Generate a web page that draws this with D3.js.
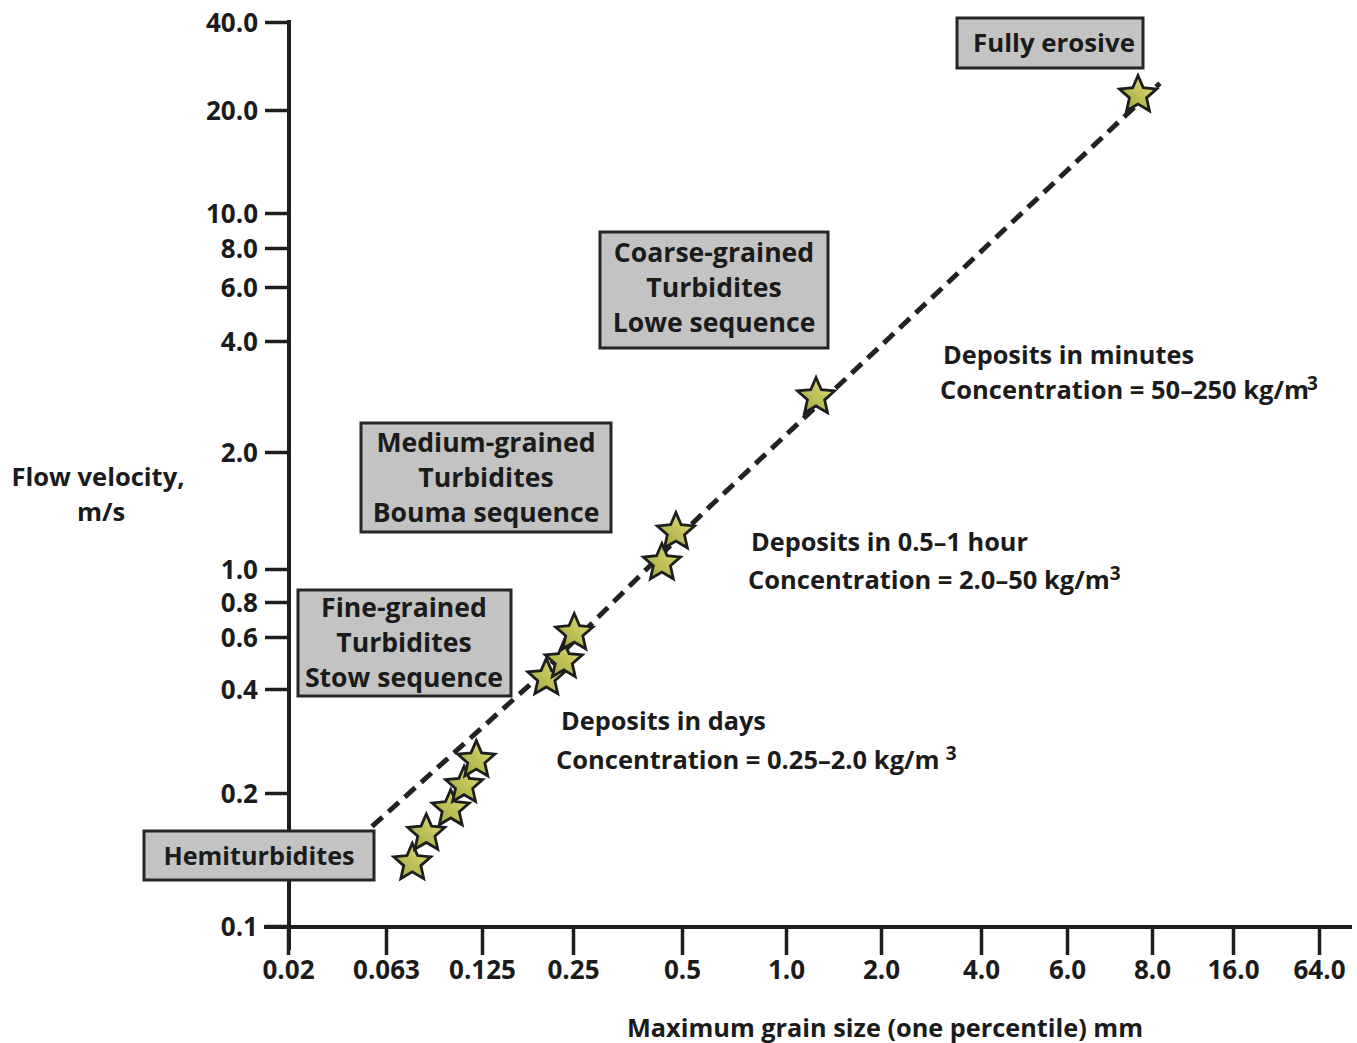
<!DOCTYPE html>
<html><head><meta charset="utf-8">
<script src="https://cdn.jsdelivr.net/npm/d3@7"></script>
<style>
body{margin:0;background:#fff}
svg{display:block}
text{font-family:"Open Sans",sans-serif;font-weight:700;fill:#1b1b1b}
</style>
</head><body>
<svg id="chart" width="1357" height="1043"></svg>
<script>
// ---------- data ----------
const xTickValues = [0.02, 0.063, 0.125, 0.25, 0.5, 1.0, 2.0, 4.0, 6.0, 8.0, 16.0, 64.0];
const xTickLabels = ["0.02", "0.063", "0.125", "0.25", "0.5", "1.0", "2.0", "4.0", "6.0", "8.0", "16.0", "64.0"];
const yTickValues = [0.1, 0.2, 0.4, 0.6, 0.8, 1.0, 2.0, 4.0, 6.0, 8.0, 10.0, 20.0, 40.0];
const yTickLabels = ["0.1", "0.2", "0.4", "0.6", "0.8", "1.0", "2.0", "4.0", "6.0", "8.0", "10.0", "20.0", "40.0"];
// star samples: maximum grain size (mm) and flow velocity (m/s)
const grainSize    = [0.076, 0.084, 0.100, 0.110, 0.120, 0.204, 0.233, 0.252, 0.440, 0.481, 1.245, 7.63];
const flowVelocity = [0.139, 0.162, 0.184, 0.210, 0.249, 0.436, 0.498, 0.620, 1.036, 1.245, 2.82, 22.5];
// dashed trend line
const trendGrain    = [0.0535, 0.184, 0.575, 8.56];
const trendVelocity = [0.168, 0.422, 1.393, 24.7];
// annotations
const boxLabels = [
  ["Fully erosive"],
  ["Coarse-grained", "Turbidites", "Lowe sequence"],
  ["Medium-grained", "Turbidites", "Bouma sequence"],
  ["Fine-grained", "Turbidites", "Stow sequence"],
  ["Hemiturbidites"]
];
const depositLabels = ["Deposits in minutes", "Deposits in 0.5\u20131 hour", "Deposits in days"];
const concentrationLabels = ["Concentration = 50\u2013250 kg/m", "Concentration = 2.0\u201350 kg/m", "Concentration = 0.25\u20132.0 kg/m"];
const yTitle = ["Flow velocity,", "m/s"];
const xTitle = "Maximum grain size (one percentile) mm";

// ---------- layout ----------
const xTickPos = [288, 386, 482, 573, 682, 786, 881, 981, 1067, 1152, 1233, 1319];
const yTickPos = [926, 793, 689, 637, 602, 569, 452, 341, 287, 248, 213, 110, 22];
const boxLayout = [
  {x: 957, y: 18, w: 186, h: 50, cx: 1054, cy: 43, fs: 25.8},
  {x: 600, y: 232, w: 228, h: 116, cx: 714, cy: 253, fs: 26.6},
  {x: 361, y: 423, w: 250, h: 109, cx: 486, cy: 443, fs: 26.6},
  {x: 298, y: 590, w: 213, h: 106, cx: 404, cy: 608, fs: 26.6},
  {x: 144, y: 831, w: 230, h: 49, cx: 259, cy: 856, fs: 25.2}
];
const depositLayout = [
  {x1: 943, y1: 355, x2: 940, y2: 390, supDx: -2},
  {x1: 751, y1: 542, x2: 748, y2: 580, supDx: 0},
  {x1: 561, y1: 721, x2: 556, y2: 760, supDx: 6}
];

const svg = d3.select("#chart");

const x = d3.scaleLog().domain(xTickValues).range(xTickPos);
const y = d3.scaleLog().domain(yTickValues).range(yTickPos);

// ---------- defs ----------
const defs = svg.append("defs");
const grad = defs.append("linearGradient").attr("id", "starGrad")
  .attr("x1", "0").attr("y1", "1").attr("x2", "1").attr("y2", "0");
grad.append("stop").attr("offset", "0%").attr("stop-color", "#9ba236");
grad.append("stop").attr("offset", "100%").attr("stop-color", "#e6e37c");

// ---------- axes ----------
const axisColor = "#1e1e1e";
svg.append("line").attr("x1", x(0.02)+1).attr("x2", x(0.02)+1)
  .attr("y1", y(40) - 2).attr("y2", y(0.1) + 24)
  .attr("stroke", axisColor).attr("stroke-width", 4);
svg.append("line").attr("x1", x(0.02) - 24).attr("x2", 1352)
  .attr("y1", y(0.1)+1).attr("y2", y(0.1)+1)
  .attr("stroke", axisColor).attr("stroke-width", 4);

const yAxis = svg.append("g").attr("transform", `translate(${x(0.02)+1},0)`)
  .call(d3.axisLeft(y).tickValues(yTickValues).tickFormat((d, i) => yTickLabels[i])
    .tickSize(24).tickPadding(7));
yAxis.select(".domain").remove();
yAxis.selectAll(".tick line").attr("stroke", axisColor).attr("stroke-width", 3.5);
yAxis.selectAll(".tick text").style("font-size", "26px").attr("fill", "#1b1b1b").attr("dy", "0.36em");

const xAxis = svg.append("g").attr("transform", `translate(0,${y(0.1)+3})`)
  .call(d3.axisBottom(x).tickValues(xTickValues).tickFormat((d, i) => xTickLabels[i])
    .tickSize(26).tickPadding(6));
xAxis.select(".domain").remove();
xAxis.selectAll(".tick line").attr("stroke", axisColor).attr("stroke-width", 3.5);
xAxis.selectAll(".tick text").style("font-size", "26px").attr("fill", "#1b1b1b");

// axis titles
svg.append("text").attr("x", 98).attr("y", 477).attr("dy", "0.35em").attr("text-anchor", "middle")
  .style("font-size", "25.5px").text(yTitle[0]);
svg.append("text").attr("x", 101).attr("y", 512).attr("dy", "0.35em").attr("text-anchor", "middle")
  .style("font-size", "25.5px").text(yTitle[1]);
svg.append("text").attr("x", 885).attr("y", 1028).attr("dy", "0.35em").attr("text-anchor", "middle")
  .style("font-size", "25.3px").text(xTitle);

// ---------- trend line ----------
const trend = trendGrain.map((g, i) => [g, trendVelocity[i]]);
svg.append("path").datum(trend)
  .attr("d", d3.line().x(d => x(d[0])).y(d => y(d[1])))
  .attr("fill", "none").attr("stroke", "#222").attr("stroke-width", 5)
  .attr("stroke-dasharray", "14,8");

// ---------- boxes ----------
boxLabels.forEach((lines, i) => {
  const b = boxLayout[i];
  svg.append("rect").attr("x", b.x).attr("y", b.y).attr("width", b.w).attr("height", b.h)
    .attr("fill", "#c3c3c3").attr("stroke", "#262626").attr("stroke-width", 3);
  lines.forEach((t, j) => {
    svg.append("text").attr("x", b.cx).attr("y", b.cy + j * 35).attr("dy", "0.35em")
      .attr("text-anchor", "middle").style("font-size", b.fs + "px").text(t);
  });
});

// ---------- deposit annotations ----------
depositLabels.forEach((t, i) => {
  const L = depositLayout[i];
  svg.append("text").attr("x", L.x1).attr("y", L.y1).attr("dy", "0.35em")
    .style("font-size", "25.3px").text(t);
  const c = svg.append("text").attr("x", L.x2).attr("y", L.y2).attr("dy", "0.35em")
    .style("font-size", "25.5px");
  c.append("tspan").text(concentrationLabels[i]);
  c.append("tspan").attr("dx", L.supDx).attr("dy", "-0.45em").style("font-size", "19px").text("3");
});

// ---------- stars ----------
function starPath(ro, ri) {
  const pts = [];
  for (let k = 0; k < 10; k++) {
    const r = k % 2 === 0 ? ro : ri;
    const a = -Math.PI / 2 + k * Math.PI / 5;
    pts.push([r * Math.cos(a), r * Math.sin(a)]);
  }
  return "M" + pts.map(p => p[0].toFixed(2) + "," + p[1].toFixed(2)).join("L") + "Z";
}
const samples = grainSize.map((g, i) => ({g, v: flowVelocity[i]}));
svg.append("g").selectAll("path").data(samples).join("path")
  .attr("d", starPath(19.5, 9))
  .attr("transform", d => `translate(${x(d.g)},${y(d.v)})`)
  .attr("fill", "url(#starGrad)").attr("stroke", "#1e1e1e").attr("stroke-width", 2.8)
  .attr("stroke-linejoin", "miter");
</script>
</body></html>
